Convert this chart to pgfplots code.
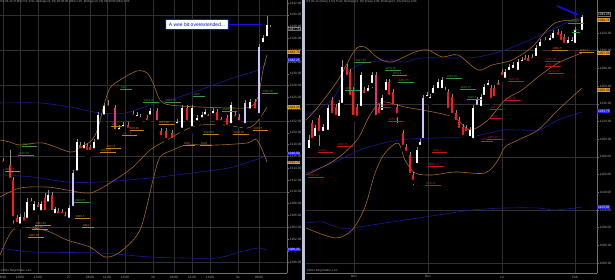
\documentclass[border=0pt]{standalone}
\usepackage{fontspec}
\setmainfont{Liberation Sans}
\usepackage{pgfplots}
\pgfplotsset{compat=1.18}
\usepackage{pgfplotstable}
\usetikzlibrary{arrows.meta}

\definecolor{bandor}{HTML}{A4681C}
\definecolor{bandbl}{HTML}{1A1A96}
\definecolor{gridc}{HTML}{303030}
\definecolor{axc}{HTML}{707070}
\definecolor{tickc}{HTML}{A8A8A8}
\definecolor{upc}{HTML}{FFFFFF}
\definecolor{dnc}{HTML}{FF1A1A}
\definecolor{lavc}{HTML}{C8C8FF}
\definecolor{magc}{HTML}{E8307F}
\definecolor{wickc}{HTML}{8C8C8C}
\definecolor{labg}{HTML}{3A943A}
\definecolor{labo}{HTML}{C47E1C}
\definecolor{labr}{HTML}{BE1818}
\definecolor{tago}{HTML}{E89B1C}
\definecolor{tagb}{HTML}{2626FF}
\definecolor{sepc}{HTML}{BFC4D2}
\definecolor{arrowb}{HTML}{1010F0}

\newcommand{\tk}{\fontsize{3.2}{3.6}\selectfont}
\newcommand{\lf}{\fontsize{2.9}{3.2}\selectfont}

\pgfplotsset{
  ninja/.style={
    scale only axis, anchor=south west, clip=false,
    axis x line*=bottom, axis y line*=right,
    axis line style={draw=axc, line width=0.5pt, -},
    ytick pos=right,
    tick style={draw=axc, line width=0.4pt},
    major tick length=2pt,
    tick align=outside,
    xtick style={draw=none},
    xmajorgrids,
    major grid style={draw=gridc, line width=0.4pt},
    tick label style={font=\tk, text=tickc, inner sep=0.6pt},
    /pgf/number format/assume math mode=true,
    yticklabel style={/pgf/number format/.cd, fixed, fixed zerofill, precision=2, 1000 sep={}},
    extra y tick labels={},
    extra y tick style={grid=major, major tick length=0pt},
  },
  wick/.style={only marks, mark=none, forget plot, error bars/.cd, y dir=plus, y explicit, error mark=none, error bar style={draw=#1, line width=0.45pt}},
  body/.style={only marks, mark=none, forget plot, error bars/.cd, y dir=plus, y explicit, error mark=none, error bar style={draw=#1, line width=2.4pt}},
  band/.style={draw=#1, line width=0.6pt, mark=none, smooth, forget plot},
}
\tikzset{
  labnode/.style={anchor=south west, font=\lf, text=#1, inner sep=0.3pt,
    append after command={(\tikzlastnode.south west) edge[draw=#1, line width=0.3pt] ([xshift=5pt]\tikzlastnode.south east)}},
  tag/.style={anchor=west, fill=#1, inner xsep=0.8pt, inner ysep=0.4pt, font=\tk, text=black},
}
\newcommand{\lab}[4]{\node[labnode=#1] at (axis cs:#2,#3) {#4};}

\pgfplotstableread{
x lo hi bl bh
20 1304.0 1306.25 1304.25 1305.75
27 1304.75 1309.0 1305.25 1308.25
34 1306.0 1308.5 1306.5 1308.0
41 1306.25 1308.5 1306.5 1308.0
48 1307.5 1310.25 1308.0 1309.5
55 1305.5 1307.5 1306.0 1307.0
69 1304.75 1307.75 1305.25 1307.25
77 1312.75 1319.0 1313.25 1318.5
84 1316.5 1318.5 1317.0 1318.0
94 1316.5 1319.0 1317.0 1318.5
98 1318.25 1323.5 1318.5 1323.0
104 1322.25 1325.0 1322.75 1324.5
119 1319.75 1321.25 1320.25 1320.75
123 1320.25 1321.75 1320.75 1321.25
137 1322.0 1323.5 1322.5 1323.0
150 1322.25 1324.25 1322.75 1323.75
177 1320.75 1322.25 1321.25 1321.75
182 1320.0 1324.75 1320.5 1324.25
192 1320.25 1324.75 1320.75 1324.25
197 1321.25 1323.0 1321.75 1322.5
202 1321.75 1323.5 1322.25 1323.0
205 1322.25 1324.0 1322.75 1323.5
213 1322.5 1324.25 1323.0 1323.75
231 1320.75 1325.25 1321.25 1324.75
250 1323.5 1325.75 1323.75 1325.25
263 1334.5 1336.5 1335.0 1336.0
267 1335.5 1339.75 1336.0 1338.25
}\leftUp
\pgfplotstableread{
x lo hi bl bh
3 1314.25 1315.75 1314.75 1315.25
10 1311.5 1317.0 1312.0 1314.5
13 1304.25 1312.5 1305.5 1312.0
17 1303.75 1306.0 1304.5 1305.5
24 1304.25 1306.5 1304.75 1305.75
31 1307.5 1309.0 1308.0 1308.5
38 1306.5 1308.25 1307.0 1307.75
45 1306.0 1309.75 1306.5 1309.0
52 1306.0 1310.0 1306.5 1309.5
58 1305.75 1307.25 1306.0 1306.75
62 1305.5 1307.0 1306.0 1306.5
65 1305.0 1306.5 1305.5 1306.0
80 1316.5 1318.5 1317.0 1318.0
87 1316.0 1318.25 1316.75 1317.75
90 1316.25 1318.0 1316.75 1317.5
108 1323.75 1325.5 1324.25 1324.75
128 1320.0 1321.75 1320.5 1321.25
133 1322.25 1323.75 1322.75 1323.25
140 1321.75 1323.25 1322.25 1322.75
147 1321.25 1323.0 1321.75 1322.5
161 1318.75 1320.75 1319.25 1320.25
166 1318.25 1320.75 1318.75 1320.25
172 1318.25 1320.5 1318.75 1320.0
187 1321.25 1324.75 1321.75 1324.25
208 1322.0 1323.25 1322.5 1323.0
217 1321.25 1324.0 1321.75 1323.5
221 1321.25 1322.75 1321.75 1322.25
227 1320.5 1323.0 1321.0 1322.5
235 1322.0 1323.5 1322.5 1323.0
255 1323.25 1325.75 1323.75 1325.25
270 1337.25 1338.25 1337.5 1338.0
}\leftDn
\pgfplotstableread{
x lo hi bl bh
73 1307.0 1313.75 1307.25 1313.25
245 1321.0 1325.5 1321.25 1325.0
259 1322.75 1335.0 1323.0 1334.5
}\leftLav
\pgfplotstableread{
x lo hi bl bh
115 1319.5 1324.75 1320.25 1324.25
157 1321.25 1324.25 1321.75 1323.75
239 1321.25 1323.25 1321.75 1322.75
}\leftMag

\pgfplotstableread{
x lo hi bl bh
309 1183.25 1204.75 1187.75 1199.0
315 1198.0 1216.0 1201.25 1212.75
323 1203.5 1217.25 1207.0 1213.75
328 1204.75 1238.75 1208.25 1235.25
339 1220.5 1244.25 1224.0 1241.0
342 1235.25 1289.5 1238.75 1281.5
361 1231.75 1276.0 1235.25 1272.5
368 1248.75 1261.25 1252.25 1257.75
372 1255.5 1276.0 1261.25 1272.5
382 1227.25 1250.0 1230.75 1246.5
386 1250.0 1268.0 1253.25 1264.75
417 1167.5 1191.25 1170.75 1187.75
420 1187.75 1200.25 1191.25 1196.75
427 1243.25 1253.25 1246.5 1250.0
430 1241.0 1251.0 1244.25 1247.75
433 1246.5 1261.25 1250.0 1257.75
438 1252.25 1268.0 1255.5 1264.75
442 1252.25 1270.25 1255.5 1267.0
470 1198.0 1213.75 1201.25 1210.5
473 1195.75 1238.75 1199.0 1235.25
481 1231.75 1251.0 1235.25 1247.75
484 1244.25 1262.25 1247.75 1259.0
488 1255.5 1267.0 1259.0 1263.5
505 1263.5 1279.25 1267.0 1276.0
509 1272.5 1285.0 1276.0 1281.5
513 1274.75 1287.25 1278.25 1283.75
518 1272.5 1290.5 1276.0 1287.25
522 1282.75 1293.0 1286.0 1289.5
536 1288.25 1306.5 1291.75 1303.0
540 1299.75 1313.25 1303.0 1309.75
545 1306.5 1315.5 1309.75 1312.0
550 1306.5 1317.75 1309.75 1314.25
553 1308.75 1323.5 1312.0 1320.0
568 1303.0 1315.5 1306.5 1312.0
572 1305.25 1315.5 1308.75 1312.0
575 1303.0 1326.75 1306.5 1323.5
582 1319.0 1340.25 1321.25 1338.0
}\rightUp
\pgfplotstableread{
x lo hi bl bh
312 1195.75 1221.75 1199.0 1218.25
319 1190.0 1227.25 1207.0 1224.0
332 1224.0 1247.75 1227.25 1244.25
336 1221.75 1239.75 1225.0 1236.5
347 1267.0 1285.0 1270.25 1281.5
350 1244.25 1279.25 1247.75 1276.0
353 1221.75 1259.0 1225.0 1255.5
357 1220.5 1239.75 1224.0 1236.5
364 1246.5 1259.0 1250.0 1255.5
379 1224.0 1239.75 1227.25 1236.5
389 1244.25 1268.0 1247.75 1264.75
393 1233.0 1256.75 1236.5 1253.25
397 1216.0 1239.75 1227.25 1236.5
403 1187.75 1210.5 1191.25 1207.0
406 1181.0 1194.5 1184.5 1191.25
410 1156.25 1185.5 1159.5 1182.25
413 1146.0 1163.0 1151.75 1159.5
445 1250.0 1259.0 1253.25 1255.5
448 1229.5 1256.75 1233.0 1253.25
452 1224.0 1251.0 1227.25 1247.75
456 1216.0 1233.0 1219.5 1229.5
459 1207.0 1225.0 1210.5 1221.75
463 1199.0 1217.25 1202.5 1213.75
466 1203.5 1216.0 1207.0 1212.75
491 1241.0 1261.25 1244.25 1257.75
494 1243.25 1261.25 1246.5 1257.75
498 1255.5 1267.0 1259.0 1263.5
502 1267.0 1279.25 1270.25 1276.0
525 1283.75 1295.25 1287.25 1291.75
528 1282.75 1295.25 1286.0 1291.75
532 1286.0 1296.25 1289.5 1293.0
558 1312.0 1324.5 1315.5 1321.25
561 1306.5 1322.25 1309.75 1319.0
564 1303.0 1319.0 1306.5 1315.5
}\rightDn
\pgfplotstableread{
x lo hi bl bh
423 1195.75 1250.0 1199.0 1246.5
477 1233.0 1247.75 1236.5 1244.25
}\rightLav
\pgfplotstableread{
x lo hi bl bh
376 1221.75 1276.0 1225.0 1272.5
}\rightMag

\begin{document}
\begin{tikzpicture}
\fill[black] (0,0) rectangle (615pt,280pt);

% ---------------- left panel (intraday) ----------------
\begin{axis}[ninja, at={(0pt,7pt)}, width=287pt, height=273pt,
  xmin=0, xmax=287, ymin=1296.23, ymax=1342.5,
  ytick={1298,1300,...,1342},
  extra y ticks={1298,1304,...,1340},
  xtick={3,20,38,69,90,107,125,153,174,192,210,238,259},
  xticklabels={8:00,10:00,14:00,27,08:00,11:00,14:00,30,08:00,11:00,14:00,31,08:00}]
\addplot[band=bandbl] coordinates {(0,1325.04)(40,1325.04)(70,1324.36)(100,1323.35)(125,1323.35)(150,1324.70)(170,1325.55)(200,1327.25)(233,1329.28)(258,1330.64)(267,1331.99)};
\addplot[band=bandbl] coordinates {(0,1312.84)(33,1312.50)(67,1311.65)(100,1311.65)(150,1312.33)(200,1313.35)(233,1314.19)(263,1315.89)};
\addplot[band=bandbl] coordinates {(0,1300.46)(33,1299.79)(100,1299.62)(150,1298.94)(183,1298.77)(217,1298.77)(240,1299.79)(258,1300.46)(267,1300.13)};
\addplot[band=bandor] coordinates {(0,1318.77)(10,1318.43)(20,1317.92)(43,1318.26)(70,1316.74)(80,1317.41)(92,1318.77)(98,1320.80)(104,1324.70)(110,1327.58)(120,1328.94)(137,1330.47)(147,1330.13)(153,1328.43)(160,1325.55)(170,1324.70)(200,1324.36)(233,1324.19)(250,1324.36)(258,1326.06)(263,1330.64)(267,1333.18)};
\addplot[band=bandor] coordinates {(0,1309.11)(20,1310.63)(47,1310.80)(67,1310.30)(90,1309.79)(110,1311.48)(133,1314.19)(150,1317.08)(167,1318.77)(185,1320.47)(200,1321.31)(225,1321.31)(247,1320.80)(257,1321.82)(267,1324.36)};
\addplot[band=bandor] coordinates {(0,1299.28)(13,1303.52)(33,1303.85)(50,1303.18)(67,1301.82)(90,1300.63)(105,1298.94)(120,1299.79)(140,1303.52)(153,1311.99)(160,1315.89)(173,1317.08)(187,1317.92)(217,1317.92)(247,1318.26)(257,1318.77)(267,1315.04)};

\addplot[wick=wickc] table[x=x, y=lo, y error plus expr=\thisrow{hi}-\thisrow{lo}] {\leftUp};
\addplot[wick=wickc] table[x=x, y=lo, y error plus expr=\thisrow{hi}-\thisrow{lo}] {\leftDn};
\addplot[wick=wickc] table[x=x, y=lo, y error plus expr=\thisrow{hi}-\thisrow{lo}] {\leftLav};
\addplot[wick=wickc] table[x=x, y=lo, y error plus expr=\thisrow{hi}-\thisrow{lo}] {\leftMag};
\addplot[body=upc] table[x=x, y=bl, y error plus expr=\thisrow{bh}-\thisrow{bl}] {\leftUp};
\addplot[body=dnc] table[x=x, y=bl, y error plus expr=\thisrow{bh}-\thisrow{bl}] {\leftDn};
\addplot[body=lavc] table[x=x, y=bl, y error plus expr=\thisrow{bh}-\thisrow{bl}] {\leftLav};
\addplot[body=magc] table[x=x, y=bl, y error plus expr=\thisrow{bh}-\thisrow{bl}] {\leftMag};

\lab{labg}{262}{1326.74}{1326.25}
\lab{labg}{120}{1327.41}{1327}
\lab{labg}{143}{1325.21}{1324.75}
\lab{labg}{165}{1325.21}{1324.75}
\lab{labg}{193}{1326.23}{1326}
\lab{labg}{222}{1323.69}{1323.5}
\lab{labo}{111}{1321.14}{1321}
\lab{labo}{128}{1320.47}{1320.25}
\lab{labo}{122}{1319.62}{1319.5}
\lab{labo}{158}{1321.48}{1321.25}
\lab{labo}{203}{1319.79}{1319.75}
\lab{labo}{233}{1319.70}{1318.25}
\lab{labo}{253}{1320.47}{1320.5}
\lab{labg}{22}{1317.75}{1317.5}
\lab{labg}{18}{1316.23}{1316.25}
\lab{labo}{5}{1313.52}{1313.5}
\lab{labo}{100}{1316.74}{1316.75}
\lab{labo}{106}{1317.41}{1317.5}
\lab{labg}{74}{1308.26}{1308.25}
\lab{labo}{75}{1305.55}{1305.5}
\lab{labo}{82}{1304.02}{1304}
\lab{labo}{35}{1304.36}{1304.25}
\lab{labo}{32}{1303.69}{1303.75}
\lab{labo}{28}{1302.33}{1302.25}
\lab{labo}{183}{1317.92}{1318}
\lab{labo}{200}{1317.92}{1318}

\node[anchor=west, draw=axc, fill=black, text=white, font=\tk, inner xsep=0.8pt, inner ysep=0.4pt] at (axis cs:287,1337.58) {1337.75};
\node[tag=tago] at (axis cs:287,1333.69) {1333.75};
\node[tag=tagb, text=white] at (axis cs:287,1332.33) {1332.25};
\node[tag=tago] at (axis cs:287,1324.36) {1324.25};
\node[tag=tagb, text=white] at (axis cs:287,1316.50) {1316.50};
\node[tag=tago] at (axis cs:287,1314.90) {1314.75};
\node[tag=tagb, text=white] at (axis cs:287,1300.29) {1300.25};

\node[draw=arrowb, line width=0.9pt, fill=white, text=arrowb, font=\fontsize{5}{5.5}\selectfont, inner xsep=3pt, minimum height=10pt, rounded corners=0.6pt] (wee) at (axis cs:197,1338.35) {A wee bit overextended...};
\draw[arrowb, line width=1.5pt, -{Latex[length=3.5pt,width=4.5pt]}] (wee.east) -- (axis cs:262,1338.35);

\node[anchor=north west, font=\lf, text=tickc, inner sep=0.5pt] at (rel axis cs:0,1) {ES 03-12 (5 Min) 5/3 Ticks, Bollinger(2, 20) 09:30:00 (Mkt) 2.25, Bollinger(3, 20) 09:30:00 (Mkt) 3.00};
\node[anchor=south west, font=\lf, text=tickc, inner sep=0.5pt] at (rel axis cs:0,0) {\textcopyright2011 NinjaTrader, LLC};
\end{axis}

% ---------------- right panel (daily) ----------------
\begin{axis}[ninja, at={(306pt,7pt)}, width=291pt, height=273pt,
  xmin=306, xmax=597, ymin=1048.8, ymax=1357.29,
  ytick={1060,1080,...,1320},
  extra y ticks={1060,1120,...,1300},
  xtick={354,428,502,575},
  xticklabels={Nov,Dec,12,Feb}]
\addplot[band=bandbl] coordinates {(306,1227.34)(332,1244.29)(348,1275.93)(365,1286.10)(392,1289.49)(405,1287.23)(422,1291.75)(455,1291.75)(478,1292.88)(505,1300.79)(525,1309.83)(545,1320.0)(558,1326.78)(572,1334.69)(582,1338.08)};
\addplot[band=bandbl] coordinates {(306,1105.30)(322,1106.43)(340,1099.65)(352,1099.65)(372,1103.04)(405,1108.69)(438,1114.34)(472,1119.99)(505,1122.25)(538,1122.25)(555,1119.99)(582,1123.38)};
\addplot[band=bandbl] coordinates {(306,1161.80)(335,1174.23)(365,1190.05)(400,1199.09)(435,1201.35)(470,1202.48)(505,1210.39)(538,1210.39)(558,1221.69)(582,1230.73)};
\addplot[band=bandor] coordinates {(306,1221.69)(318,1236.38)(338,1266.89)(355,1300.79)(365,1304.18)(378,1291.75)(392,1287.23)(415,1298.53)(428,1300.79)(442,1292.88)(458,1295.14)(478,1278.19)(492,1283.84)(512,1289.49)(532,1304.18)(555,1331.30)(582,1334.69)};
\addplot[band=bandor] coordinates {(306,1159.54)(335,1176.49)(357,1199.09)(370,1227.34)(382,1242.03)(405,1236.38)(438,1229.60)(455,1223.95)(470,1210.39)(488,1221.69)(505,1244.29)(522,1255.59)(538,1270.28)(558,1286.10)(582,1297.40)};
\addplot[band=bandor] coordinates {(306,1099.65)(335,1088.35)(352,1097.39)(365,1123.38)(375,1161.80)(385,1184.40)(398,1195.70)(405,1176.49)(415,1161.80)(432,1159.54)(455,1162.93)(485,1161.80)(498,1176.49)(505,1191.18)(518,1199.09)(538,1210.39)(558,1232.99)(582,1257.85)};

\addplot[wick=wickc] table[x=x, y=lo, y error plus expr=\thisrow{hi}-\thisrow{lo}] {\rightUp};
\addplot[wick=wickc] table[x=x, y=lo, y error plus expr=\thisrow{hi}-\thisrow{lo}] {\rightDn};
\addplot[wick=wickc] table[x=x, y=lo, y error plus expr=\thisrow{hi}-\thisrow{lo}] {\rightLav};
\addplot[wick=wickc] table[x=x, y=lo, y error plus expr=\thisrow{hi}-\thisrow{lo}] {\rightMag};
\addplot[body=upc] table[x=x, y=bl, y error plus expr=\thisrow{bh}-\thisrow{bl}] {\rightUp};
\addplot[body=dnc] table[x=x, y=bl, y error plus expr=\thisrow{bh}-\thisrow{bl}] {\rightDn};
\addplot[body=lavc] table[x=x, y=bl, y error plus expr=\thisrow{bh}-\thisrow{bl}] {\rightLav};
\addplot[body=magc] table[x=x, y=bl, y error plus expr=\thisrow{bh}-\thisrow{bl}] {\rightMag};

\lab{labg}{355}{1287.23}{1287.25}
\lab{labg}{385}{1278.19}{1278.25}
\lab{labg}{392}{1272.54}{1272.5}
\lab{labg}{398}{1264.63}{1264.75}
\lab{labg}{345}{1255.59}{1255.5}
\lab{labg}{446}{1269.15}{1269.25}
\lab{labg}{460}{1256.72}{1256.75}
\lab{labg}{467}{1245.42}{1245.5}
\lab{labr}{380}{1236.38}{1236.5}
\lab{labr}{388}{1220.56}{1220.5}
\lab{labr}{508}{1265.76}{1265.75}
\lab{labr}{545}{1288.36}{1288.25}
\lab{labr}{545}{1282.71}{1282.75}
\lab{labr}{548}{1274.80}{1274.75}
\lab{labr}{505}{1244.29}{1244.25}
\lab{labr}{490}{1234.12}{1234}
\lab{labr}{490}{1223.95}{1224}
\lab{labr}{487}{1200.22}{1200.25}
\lab{labr}{337}{1192.31}{1192.25}
\lab{labr}{318}{1185.53}{1185.5}
\lab{labr}{308}{1157.28}{1157.25}
\lab{labr}{432}{1185.53}{1185.5}
\lab{labr}{428}{1169.71}{1169.75}
\lab{labr}{425}{1148.24}{1148.25}
\lab{labr}{481}{1197.96}{1198}
\lab{labo}{552}{1300.79}{1300.75}
\lab{labo}{579}{1298.53}{1298.5}
\lab{labg}{568}{1331.30}{1331.25}
\lab{labg}{572}{1321.13}{1321}

\node[anchor=west, draw=axc, fill=black, text=white, font=\tk, inner xsep=0.8pt, inner ysep=0.4pt] at (axis cs:597,1341.2) {1341.25};
\node[tag=tago] at (axis cs:597,1334.7) {1334.75};
\node[tag=tago] at (axis cs:597,1297.40) {1297.50};
\node[tag=tago] at (axis cs:597,1255.59) {1255.50};
\node[tag=tagb, text=white] at (axis cs:597,1231.86) {1231.75};
\node[tag=tagb, text=white] at (axis cs:597,1123.38) {1123.50};

\draw[arrowb, line width=1.6pt, -{Latex[length=3.5pt,width=4.5pt]}] (axis cs:557,1350.5) -- (axis cs:578,1340.6);

\node[anchor=north west, font=\lf, text=tickc, inner sep=0.5pt] at (rel axis cs:0,1) {ES 03-12 (Daily) 1.5/3 Ticks, Bollinger(2, 20) (Daily) 2.00, Bollinger(3, 20) (Daily) 3.00};
\node[anchor=south west, font=\lf, text=tickc, inner sep=0.5pt] at (rel axis cs:0,0) {\textcopyright2011 NinjaTrader, LLC};
\end{axis}

\fill[sepc] (302pt,0pt) rectangle (304.5pt,280pt);
\pgfresetboundingbox
\useasboundingbox (0,0) rectangle (615pt,280pt);
\end{tikzpicture}
\end{document}
